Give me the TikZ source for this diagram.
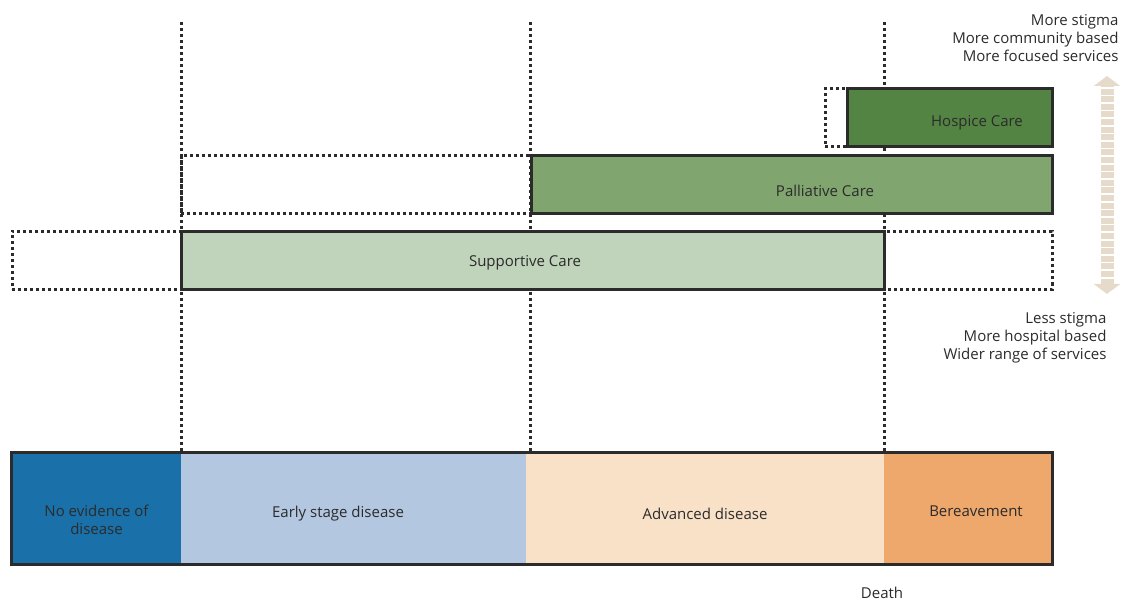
\documentclass[tikz,border=0pt]{standalone}
\usepackage{fontspec}
\setmainfont{Open Sans}
\usepackage{xcolor}
\usetikzlibrary{arrows.meta}

\definecolor{hospice}{HTML}{548444}
\definecolor{palliative}{HTML}{80A56F}
\definecolor{supportive}{HTML}{C0D3BB}
\definecolor{noevid}{HTML}{1A71A9}
\definecolor{early}{HTML}{B3C7E0}
\definecolor{advanced}{HTML}{F9E1C8}
\definecolor{bereave}{HTML}{EEA86B}
\definecolor{beige}{HTML}{E6DBCB}
\definecolor{ink}{HTML}{2B2B2B}

\begin{document}
\begin{tikzpicture}[x=1pt, y=-1pt,
    every node/.style={font=\fontsize{15}{18}\selectfont, text=ink},
    carebox/.style={draw=ink, line width=3pt, minimum height=58pt, inner sep=0pt},
    dotbox/.style={draw=ink, line width=3pt, dash pattern=on 3pt off 3pt,
      minimum height=58pt, inner sep=0pt},
    stage/.style={minimum height=111pt, inner sep=0pt, align=center},
    guide/.style={draw=ink, line width=3pt, dash pattern=on 3pt off 3pt}]
    \useasboundingbox (0,0) rectangle (1123,601);

    % vertical guides
    \coordinate (g1top) at (181,22);
    \coordinate (g2top) at (530,22);
    \coordinate (g3top) at (884,22);
    \coordinate (g1bot) at (181,452);
    \coordinate (g2bot) at (530,452);
    \coordinate (g3bot) at (884,452);
    \draw[guide] (g1top) -- (g1bot);
    \draw[guide] (g2top) -- (g2bot);
    \draw[guide] (g3top) -- (g3bot);

    % care bands
    \node[dotbox, minimum width=1040pt] (supdot) at (532,260.5) {};
    \node[carebox, fill=supportive, minimum width=703pt] (sup) at (532.5,260.5) {};
    \node (suplab) at (525,263) {Supportive Care};

    \node[dotbox, minimum width=871pt] (paldot) at (616.5,185) {};
    \node[carebox, fill=palliative, minimum width=521pt] (pal) at (791.5,185) {};
    \node (pallab) at (825,191) {Palliative Care};

    \node[dotbox, minimum width=227pt] (hosdot) at (938.5,118) {};
    \node[carebox, fill=hospice, minimum width=205pt] (hos) at (949.5,118) {};
    \node (hoslab) at (977,123) {Hospice Care};

    % disease stages
    \node[stage, fill=noevid, minimum width=169pt] (noev) at (96.5,508.5) {};
    \node (noevlab) at (96.5,520) [align=center] {No evidence of\\disease};
    \node[stage, fill=early, minimum width=345pt] (early) at (353.5,508.5) {};
    \node (earlylab) at (338,514) {Early stage disease};
    \node[stage, fill=advanced, minimum width=358pt] (adv) at (705,508.5) {};
    \node (advlab) at (705,514) {Advanced disease};
    \node[stage, fill=bereave, minimum width=168pt] (ber) at (968,508.5) {};
    \node (berlab) at (976,511) {Bereavement};
    \draw[ink, line width=3pt] (noev.north west) rectangle (ber.south east);
    \node (death) at (882,593) {Death};

    % stigma scale
    \node[anchor=east, align=right] (more) at (1122,38.5)
      {More stigma\\More community based\\More focused services};
    \node[anchor=east, align=right] (less) at (1110,338)
      {Less stigma\\More hospital based\\Wider range of services};
    \coordinate (arrtop) at (1107,76);
    \coordinate (arrbot) at (1107,294);
    \draw[beige, line width=13pt, dash pattern=on 6pt off 1.6pt,
      {Triangle[width=26pt,length=10pt]}-{Triangle[width=26pt,length=10pt]}]
      (arrbot) -- (arrtop);
\end{tikzpicture}
\end{document}
